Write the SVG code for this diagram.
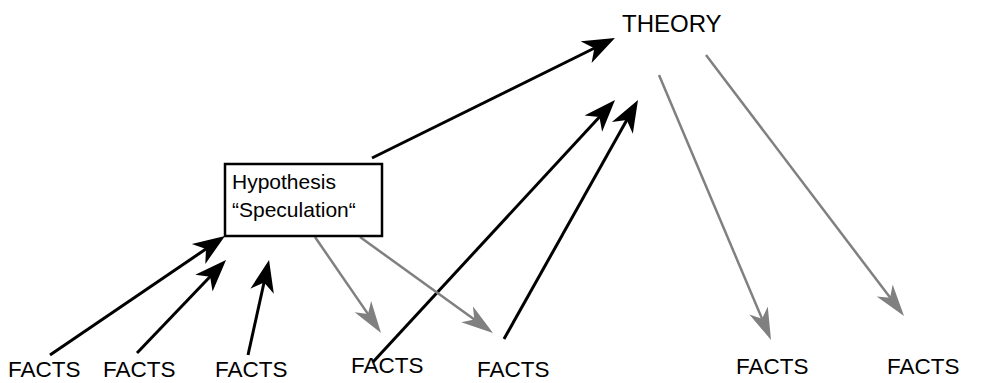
<svg xmlns="http://www.w3.org/2000/svg" width="1002" height="383" viewBox="0 0 1002 383">
  <style>
    text { font-family: "Liberation Sans", Arial, sans-serif; fill: #000; }
    .big { font-size: 24px; }
    .fact { font-size: 22.5px; }
    .hyp { font-size: 21px; }
    .box { fill: #fff; stroke: #000; stroke-width: 2.5; }
    .up { fill: none; stroke: #000; stroke-width: 3; marker-end: url(#headBlack); }
    .down { fill: none; stroke: #808080; stroke-width: 2.5; marker-end: url(#headGray); }
  </style>
  <defs>
    <!-- notched arrowheads; line end sits at x=24, tip at x=32 -->
    <marker id="headBlack" markerUnits="userSpaceOnUse" markerWidth="34" markerHeight="26" viewBox="0 0 34 26" refX="24" refY="13" orient="auto">
      <path d="M32,13 L0,1 L9,13 L0,25 Z" fill="#000"/>
    </marker>
    <marker id="headGray" markerUnits="userSpaceOnUse" markerWidth="34" markerHeight="26" viewBox="0 0 34 26" refX="24" refY="13" orient="auto">
      <path d="M32,13 L0,3 L9,13 L0,23 Z" fill="#808080"/>
    </marker>
  </defs>

  <g id="connectors">
    <!-- facts feeding the hypothesis -->
    <path class="up" d="M50,355 L218.4,240.5"/>
    <path class="up" d="M137,353 L220.5,265.8"/>
    <path class="up" d="M248,355 L267.3,267.8"/>
    <!-- hypothesis to theory -->
    <path class="up" d="M372,158 L607.8,41.5"/>
    <!-- facts confirming theory -->
    <path class="up" d="M373,362 L609.6,105.9"/>
    <path class="up" d="M504,339 L634.1,107"/>
    <!-- predictions -->
    <path class="down" d="M315,237 L376.5,326.4"/>
    <path class="down" d="M360,237 L486.5,328.3"/>
    <path class="down" d="M659,75 L767.9,332.6"/>
    <path class="down" d="M706,55 L899.2,309.6"/>
  </g>

  <g id="theory">
    <text class="big" x="622" y="32">THEORY</text>
  </g>

  <g id="hypothesis">
    <rect class="box" x="225" y="164" width="157" height="72"/>
    <text class="hyp" x="232" y="189">Hypothesis</text>
    <text class="hyp" x="232" y="217">“Speculation“</text>
  </g>

  <g id="fact1"><text class="fact" x="8" y="377">FACTS</text></g>
  <g id="fact2"><text class="fact" x="103" y="377">FACTS</text></g>
  <g id="fact3"><text class="fact" x="215" y="377">FACTS</text></g>
  <g id="fact4"><text class="fact" x="351" y="373">FACTS</text></g>
  <g id="fact5"><text class="fact" x="477" y="377">FACTS</text></g>
  <g id="fact6"><text class="fact" x="736" y="374">FACTS</text></g>
  <g id="fact7"><text class="fact" x="887" y="374">FACTS</text></g>
</svg>
